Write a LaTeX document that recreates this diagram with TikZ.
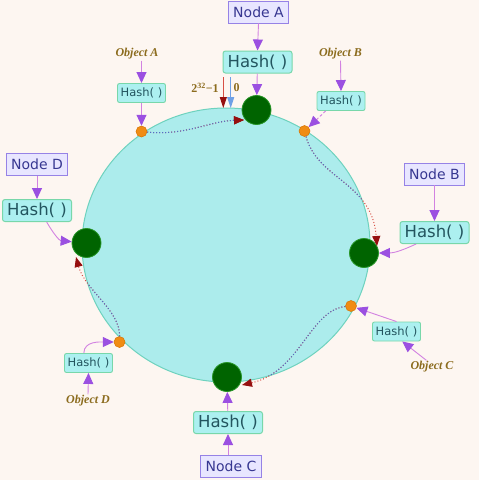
\documentclass[tikz,border=0pt]{standalone}
\usepackage{fontspec}
\newfontfamily\dvs{DejaVu Sans}
\newfontfamily\lserif{Liberation Serif}
\usetikzlibrary{arrows.meta}
\definecolor{bgc}{RGB}{253,246,241}
\definecolor{ringfill}{RGB}{172,236,236}
\definecolor{ringdraw}{RGB}{110,210,190}
\definecolor{nodefill}{RGB}{232,230,255}
\definecolor{nodedraw}{RGB}{150,130,230}
\definecolor{nodetext}{RGB}{55,55,145}
\definecolor{hashfill}{RGB}{172,240,240}
\definecolor{hashdraw}{RGB}{120,215,170}
\definecolor{hashtext}{RGB}{35,85,95}
\definecolor{olivetext}{RGB}{140,108,30}
\definecolor{srvfill}{RGB}{0,100,0}
\definecolor{srvdraw}{RGB}{40,150,40}
\definecolor{dotfill}{RGB}{240,140,20}
\definecolor{dotdraw}{RGB}{215,115,0}
\definecolor{connline}{RGB}{210,130,225}
\definecolor{arrowp}{RGB}{155,80,225}
\definecolor{flowblue}{RGB}{80,110,200}
\definecolor{flowred}{RGB}{215,80,70}
\definecolor{tipred}{RGB}{150,15,15}
\definecolor{markblue}{RGB}{110,160,230}
\begin{document}
\begin{tikzpicture}[x=1pt,y=-1pt,
  nodebox/.style={draw=nodedraw,fill=nodefill,line width=0.8pt,text=nodetext,
    font=\dvs\fontsize{14}{16}\selectfont,inner xsep=5pt,inner ysep=0pt,minimum height=22pt},
  hashbig/.style={draw=hashdraw,fill=hashfill,rounded corners=2.5pt,line width=1pt,text=hashtext,
    font=\dvs\fontsize{16.5}{18}\selectfont,minimum width=69pt,minimum height=22pt,inner sep=0pt},
  hashsmall/.style={draw=hashdraw,fill=hashfill,rounded corners=2pt,line width=0.9pt,text=hashtext,
    font=\dvs\fontsize{11.5}{13}\selectfont,minimum width=48pt,minimum height=19pt,inner sep=0pt},
  objlabel/.style={text=olivetext,font=\lserif\bfseries\itshape\fontsize{12}{13}\selectfont,inner sep=1pt},
  server/.style={circle,fill=srvfill,draw=srvdraw,line width=0.8pt,minimum size=29pt,inner sep=0pt},
  keydot/.style={circle,fill=dotfill,draw=dotdraw,line width=0.5pt,minimum size=11pt,inner sep=0pt},
  conn/.style={draw=connline,line width=0.9pt,-{Triangle[length=11pt,width=10pt,color=arrowp]}},
  flowout/.style={draw=flowred,dotted,line width=1pt,-{Triangle[length=10pt,width=8pt,color=tipred]}},
  flowin/.style={draw=flowblue,dotted,line width=1pt,-{Triangle[length=10pt,width=8pt,color=tipred]}}
]
\useasboundingbox (0,0) rectangle (479,480);
\fill[bgc] (0,0) rectangle (479,480);

% ring
\filldraw[fill=ringfill,draw=ringdraw,line width=1pt] (226,245) ellipse [x radius=144pt,y radius=137pt];

% servers
\node[server] (gA) at (256.5,110) {};
\node[server] (gB) at (364,253) {};
\node[server] (gC) at (227,377) {};
\node[server] (gD) at (86.5,243) {};

% key dots
\node[keydot] (oA) at (141.5,131.5) {};
\node[keydot] (oB) at (304.5,131) {};
\node[keydot] (oC) at (351,306) {};
\node[keydot] (oD) at (119.5,342) {};

% node boxes
\node[nodebox] (nA) at (258.5,12) {Node A};
\node[nodebox] (nB) at (434.5,174) {Node B};
\node[nodebox] (nC) at (231,466) {Node C};
\node[nodebox] (nD) at (37,164.5) {Node D};

% big hash boxes
\node[hashbig] (hA) at (257.5,62) {Hash( )};
\node[hashbig] (hB) at (434.5,232.5) {Hash( )};
\node[hashbig] (hC) at (228,422.5) {Hash( )};
\node[hashbig] (hD) at (37,210.5) {Hash( )};

% small hash boxes
\node[hashsmall] (hAs) at (141.5,93) {Hash( )};
\node[hashsmall] (hBs) at (341,101) {Hash( )};
\node[hashsmall] (hCs) at (396.5,331.5) {Hash( )};
\node[hashsmall] (hDs) at (88.5,363) {Hash( )};

% object labels
\node[objlabel] (objA) at (137,54) {Object A};
\node[objlabel] (objB) at (340.5,54) {Object B};
\node[objlabel] (objC) at (432,367) {Object C};
\node[objlabel] (objD) at (88,401) {Object D};

% 2^32-1 and 0 markers
\node[text=olivetext,font=\lserif\bfseries\fontsize{12}{13}\selectfont,inner sep=0pt] (lmax) at (205,88) {2\textsuperscript{32}−1};
\node[text=olivetext,font=\lserif\bfseries\fontsize{12}{13}\selectfont,inner sep=0pt] (lzero) at (236.5,88) {0};
\coordinate (r1) at (223.3,77);
\coordinate (r2) at (223.3,108);
\coordinate (b1) at (230.7,77);
\coordinate (b2) at (230.7,108);
\draw[draw=flowred,line width=0.9pt,-{Triangle[length=11pt,width=7pt,color=tipred]}] (r1) -- (r2);
\draw[draw=markblue,line width=0.9pt,-{Triangle[length=11pt,width=7pt,color=markblue]}] (b1) -- (b2);

% connectors
\draw[conn] (nA.south) -- (hA.north);
\draw[conn] (hA) -- (gA);
\draw[conn] (nB.south) -- (hB.north);
\draw[conn] (hB.-148) to[out=-155,in=0] (gB);
\draw[conn] (nC.north -| hC.north) -- (hC.south);
\draw[conn] (hC) -- (gC);
\draw[conn] (nD.south) -- (hD.north);
\draw[conn] (hD.-50) to[out=-60,in=175] (gD);

\draw[conn] (objA.south -| hAs.north) -- (hAs.north);
\draw[conn] (hAs) -- (oA);
\draw[conn] (objB.south) -- (hBs.north);
\draw[conn,densely dashed] (hBs.-147) -- (oB);
\draw[conn] (objC.130) -- (hCs.-60);
\draw[conn] (hCs.north) -- (oC);
\draw[conn] (objD.north) -- (hDs.south);
\draw[conn] (hDs.115) to[out=90,in=180] (oD);

% flow arrows along the ring
\coordinate (tA) at (244,120);
\coordinate (tB) at (377,246);
\coordinate (tC) at (242,385);
\coordinate (tD) at (76,257);
\draw[flowout] (oA) .. controls (185,136) and (210,121) .. (tA);
\draw[flowout] (oB) .. controls (318,180) and (372,182) .. (tB);
\draw[flowout] (oC) .. controls (310,310) and (300,372) .. (tC);
\draw[flowout] (oD) .. controls (120,310) and (85,290) .. (tD);
\begin{scope}
  \clip (226,245) ellipse [x radius=144pt,y radius=137pt];
  \draw[flowin] (oA) .. controls (185,136) and (210,121) .. (tA);
  \draw[flowin] (oB) .. controls (318,180) and (372,182) .. (tB);
  \draw[flowin] (oC) .. controls (310,310) and (300,372) .. (tC);
  \draw[flowin] (oD) .. controls (120,310) and (85,290) .. (tD);
\end{scope}
\end{tikzpicture}
\end{document}
